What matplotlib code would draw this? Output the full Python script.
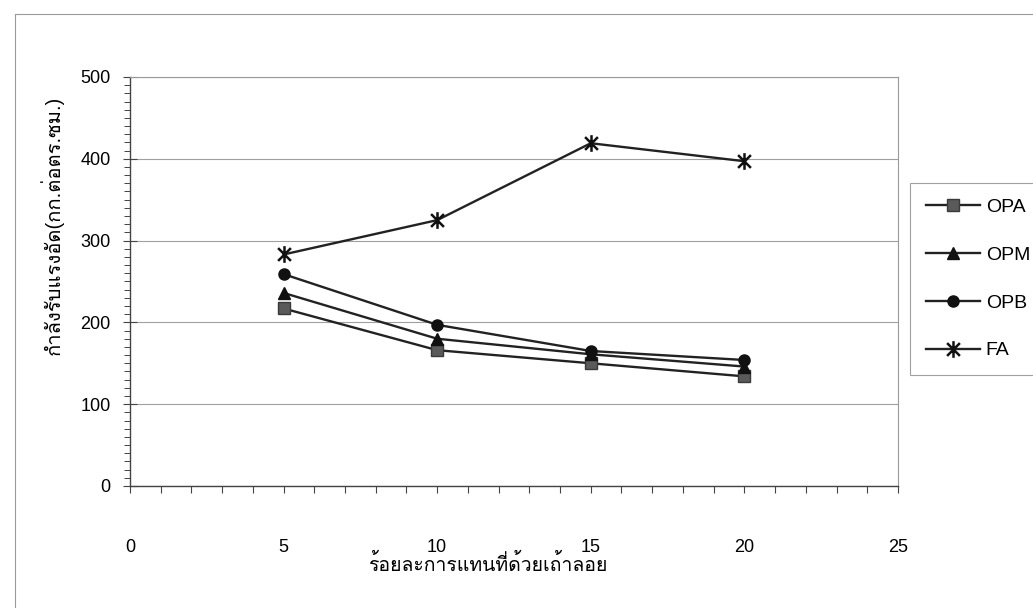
import matplotlib
matplotlib.use("Agg")
import matplotlib.pyplot as plt
from matplotlib import font_manager
from matplotlib.ft2font import FT2Font
from matplotlib.path import Path
from matplotlib.ticker import MultipleLocator

# data
replacement = [5, 10, 15, 20]
opa = [217, 166, 150, 134]
opm = [236, 180, 161, 146]
opb = [259, 197, 165, 154]
fa = [283, 325, 419, 397]

xlabel = "ร้อยละการแทนที่ด้วยเถ้าลอย"
ylabel = "กำลังรับแรงอัด(กก.ต่อตร.ซม.)"


# look for something that can draw Thai, none of the usual families can
def find_thai_font():
    for f in font_manager.fontManager.ttflist:
        try:
            if 0x0E01 in FT2Font(f.fname).get_charmap():
                return f.name
        except Exception:
            pass
    return None


families = ["Liberation Sans"]
thai = find_thai_font()
if thai:
    families.append(thai)
families.append("DejaVu Sans")
plt.rcParams["font.family"] = families

# Excel style asterisk: vertical bar + X
star = Path([(-1, -1), (1, 1), (-1, 1), (1, -1), (0, -1.3), (0, 1.3)],
            [Path.MOVETO, Path.LINETO] * 3)

fig = plt.figure(figsize=(10.33, 6.08), dpi=100)
ax = fig.add_axes([0.1258, 0.2007, 0.7435, 0.6727])

line_kw = dict(color="#222222", linewidth=1.7)
ax.plot(replacement, opa, marker="s", markersize=9, markerfacecolor="#5a5a5a",
        markeredgecolor="#3a3a3a", label="OPA", **line_kw)
ax.plot(replacement, opm, marker="^", markersize=9, markerfacecolor="#111111",
        markeredgecolor="#111111", label="OPM", **line_kw)
ax.plot(replacement, opb, marker="o", markersize=8, markerfacecolor="#111111",
        markeredgecolor="#111111", label="OPB", **line_kw)
ax.plot(replacement, fa, marker=star, markersize=12, markeredgewidth=1.8,
        markeredgecolor="#111111", label="FA", **line_kw)

ax.set_xlim(0, 25)
ax.set_ylim(0, 500)
ax.xaxis.set_major_locator(MultipleLocator(5))
ax.xaxis.set_minor_locator(MultipleLocator(1))
ax.yaxis.set_major_locator(MultipleLocator(100))
ax.yaxis.set_minor_locator(MultipleLocator(10))

ax.grid(axis="y", which="major", color="#a0a0a0", linewidth=0.8)
ax.set_axisbelow(True)

for side in ["top", "right"]:
    ax.spines[side].set_color("#9a9a9a")
    ax.spines[side].set_linewidth(0.8)
for side in ["left", "bottom"]:
    ax.spines[side].set_color("#444444")
    ax.spines[side].set_linewidth(1.0)

ax.tick_params(axis="x", which="both", direction="out", length=5, width=0.8,
               color="#444444", labelsize=13, pad=33)
ax.tick_params(axis="y", which="major", direction="inout", length=10, width=0.8,
               color="#444444", labelsize=13, pad=9)
ax.tick_params(axis="y", which="minor", direction="out", length=4, width=0.7,
               color="#444444")

ax.set_xlabel(xlabel, fontsize=14, va="center")
ax.xaxis.set_label_coords(0.466, -0.193)
ax.set_ylabel(ylabel, fontsize=14.5, va="center")
ax.yaxis.set_label_coords(-0.102, 0.636)

leg = ax.legend(loc="upper left", bbox_to_anchor=(910 / 1033, 1 - 183 / 608),
                bbox_transform=fig.transFigure, fontsize=14, frameon=True,
                fancybox=False, edgecolor="#8a8a8a", borderpad=0.8,
                labelspacing=1.55, handlelength=2.8, handletextpad=0.3,
                borderaxespad=0)
leg.get_frame().set_linewidth(0.8)

# outer chart frame, only top and left edges are inside the scan
fig.add_artist(plt.Line2D([15 / 1033, 15 / 1033], [0, 1 - 14 / 608],
                          color="#9a9a9a", linewidth=0.8))
fig.add_artist(plt.Line2D([15 / 1033, 1], [1 - 14 / 608, 1 - 14 / 608],
                          color="#9a9a9a", linewidth=0.8))

fig.savefig("out.png", dpi=100)
